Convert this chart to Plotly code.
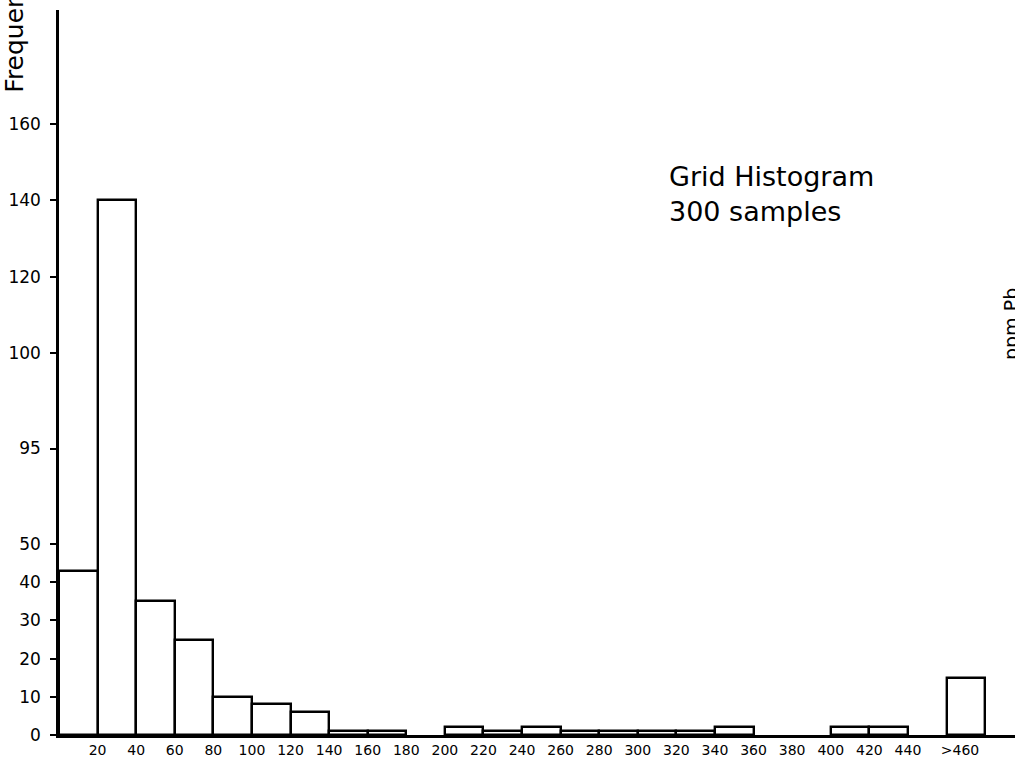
import plotly.graph_objects as go

# ---- data ----
bin_left = [0, 20, 40, 60, 80, 100, 120, 140, 160, 200, 220, 240, 260, 280, 300, 320, 340, 400, 420, 460]
frequency = [43, 140, 35, 25, 10, 8, 6, 1, 1, 2, 1, 2, 1, 1, 1, 1, 2, 2, 2, 15]
bin_width = 20

x_tick_vals = [20, 40, 60, 80, 100, 120, 140, 160, 180, 200, 220, 240, 260, 280, 300,
               320, 340, 360, 380, 400, 420, 440, 467]
x_tick_text = ["20", "40", "60", "80", "100", "120", "140", "160", "180", "200", "220", "240",
               "260", "280", "300", "320", "340", "360", "380", "400", "420", "440", ">460"]

y_tick_vals = [0, 10, 20, 30, 40, 50, 75, 100, 120, 140, 160]
y_tick_text = ["0", "10", "20", "30", "40", "50", "95", "100", "120", "140", "160"]

FONT = "DejaVu Sans"

bin_centers = [b + bin_width / 2 for b in bin_left]

fig = go.Figure()
fig.add_trace(go.Bar(
    x=bin_centers,
    y=frequency,
    width=[bin_width] * len(bin_left),
    marker=dict(color="white", line=dict(color="black", width=2.4)),
    hoverinfo="skip",
))

fig.update_layout(
    width=1015,
    height=762,
    margin=dict(l=59, r=0, t=10, b=27),
    paper_bgcolor="white",
    plot_bgcolor="white",
    showlegend=False,
    bargap=0,
    font=dict(family=FONT, color="black"),
    xaxis=dict(
        range=[0, 495.5],
        showgrid=False,
        zeroline=False,
        showline=True,
        linecolor="black",
        linewidth=2.5,
        ticks="",
        tickmode="array",
        tickvals=x_tick_vals,
        ticktext=x_tick_text,
        tickfont=dict(family=FONT, size=14, color="black"),
        automargin=False,
    ),
    yaxis=dict(
        range=[0, 189.8],
        showgrid=False,
        zeroline=False,
        showline=True,
        linecolor="black",
        linewidth=2.5,
        ticks="outside",
        ticklen=6,
        tickwidth=1.5,
        tickcolor="black",
        tickmode="array",
        tickvals=y_tick_vals,
        ticktext=y_tick_text,
        ticklabelstandoff=6,
        tickfont=dict(family=FONT, size=17, color="black"),
        automargin=False,
    ),
    annotations=[
        dict(text="Frequency", xref="paper", yref="paper", x=-0.0465, y=0.975,
             xanchor="center", yanchor="middle", textangle=-90, showarrow=False,
             font=dict(family=FONT, size=25, color="black")),
        dict(text="Grid Histogram", xref="paper", yref="paper", x=0.636, y=0.771,
             xanchor="left", yanchor="middle", showarrow=False,
             font=dict(family=FONT, size=27, color="black")),
        dict(text="300 samples", xref="paper", yref="paper", x=0.636, y=0.722,
             xanchor="left", yanchor="middle", showarrow=False,
             font=dict(family=FONT, size=27, color="black")),
        dict(text="ppm Pb", xref="paper", yref="paper", x=(1011 - 59.4) / 955.6, y=(735 - 324) / 725,
             xanchor="center", yanchor="middle", textangle=-90, showarrow=False,
             font=dict(family=FONT, size=19, color="black")),
    ],
)

fig.write_html(
    "out.html",
    config={"displayModeBar": False},
    post_script="document.documentElement.style.margin='0';document.body.style.margin='0';"
                "document.body.style.overflow='hidden';",
)
